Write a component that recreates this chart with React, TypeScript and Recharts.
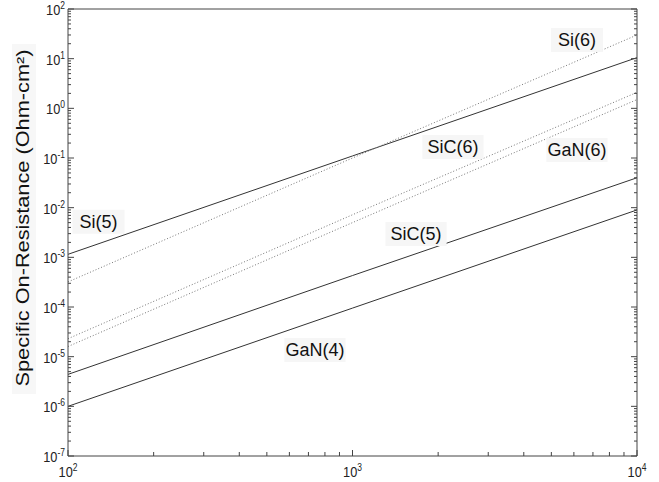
import { LineChart, Line, XAxis, YAxis, ReferenceDot } from "recharts";

// Breakdown voltage (V) at which each line was read
const voltages = [100, 1000, 10000];

// Specific on-resistance (Ohm-cm^2) read at each voltage
const si5 = [1.15e-3, 0.11, 10.5];
const si6 = [3.2e-4, 0.1, 30];
const sic6 = [2.3e-5, 7.2e-3, 2.1];
const gan6 = [1.6e-5, 5e-3, 1.5];
const sic5 = [4.4e-6, 4.3e-4, 0.04];
const gan4 = [1e-6, 9.5e-5, 9e-3];

const seriesNames = ["Si(5)", "Si(6)", "SiC(6)", "GaN(6)", "SiC(5)", "GaN(4)"];
const seriesValues = [si5, si6, sic6, gan6, sic5, gan4];
const seriesDotted = [false, true, true, true, false, false];

// Where the name of each line sits (data coords)
const labelX = [128, 6150, 2255, 6150, 1672, 738];
const labelY = [5.2e-3, 23.8, 0.167, 0.145, 2.95e-3, 1.36e-5];

const xExponents = [2, 3, 4];
const yExponents = [-7, -6, -5, -4, -3, -2, -1, 0, 1, 2];

const FONT = "'Liberation Sans', Arial, sans-serif";

function logTicks(exps: number[]) {
  const ticks: number[] = [];
  exps.forEach((e, i) => {
    ticks.push(Math.pow(10, e));
    if (i < exps.length - 1) {
      for (let k = 2; k <= 9; k++) ticks.push(k * Math.pow(10, e));
    }
  });
  return ticks;
}

const xTicks = logTicks(xExponents);
const yTicks = logTicks(yExponents);

function isMajor(v: number) {
  const e = Math.log10(v);
  return Math.abs(e - Math.round(e)) < 1e-6;
}

function Power({ v }: { v: number }) {
  return (
    <>
      <tspan>10</tspan>
      <tspan dy={-6} fontSize={10}>
        {Math.round(Math.log10(v))}
      </tspan>
    </>
  );
}

const BottomTick = (props: any) => {
  const { x, y, payload } = props;
  const major = isMajor(payload.value);
  return (
    <g>
      <line x1={x} x2={x} y1={y} y2={y - (major ? 6 : 4)} stroke="#444" />
      {major && (
        <text
          transform={`translate(${x},${y + 21}) scale(0.85,1)`}
          textAnchor="middle"
          fontSize={15}
          fill="#222"
          fontFamily={FONT}
        >
          <Power v={payload.value} />
        </text>
      )}
    </g>
  );
};

const TopTick = (props: any) => {
  const { x, y, payload } = props;
  const major = isMajor(payload.value);
  return <line x1={x} x2={x} y1={y} y2={y + (major ? 6 : 4)} stroke="#444" />;
};

const LeftTick = (props: any) => {
  const { x, y, payload } = props;
  const major = isMajor(payload.value);
  return (
    <g>
      <line x1={x} x2={x + (major ? 6 : 3)} y1={y} y2={y} stroke="#444" />
      {major && (
        <text
          transform={`translate(${x - 3},${y + 6}) scale(0.85,1)`}
          textAnchor="end"
          fontSize={15}
          fill="#222"
          fontFamily={FONT}
        >
          <Power v={payload.value} />
        </text>
      )}
    </g>
  );
};

const RightTick = (props: any) => {
  const { x, y, payload } = props;
  const major = isMajor(payload.value);
  return <line x1={x} x2={x - (major ? 6 : 3)} y1={y} y2={y} stroke="#444" />;
};

const NameTag = (name: string) => (props: any) => {
  const { cx, cy } = props;
  const w = name.length * 9.2 + 6;
  return (
    <g>
      <rect x={cx - w / 2} y={cy - 12} width={w} height={24} fill="#f6f6f6" />
      <text
        x={cx}
        y={cy}
        textAnchor="middle"
        dominantBaseline="central"
        fontSize={18}
        fill="#111"
        fontFamily={FONT}
      >
        {name}
      </text>
    </g>
  );
};

const YTitle = () => (
  <g>
    <rect x={12} y={44} width={24} height={350} fill="#f7f7f7" />
    <text
      transform="translate(29,218) rotate(-90)"
      textAnchor="middle"
      fontSize={18}
      fill="#111"
      fontFamily={FONT}
      textLength={337}
      lengthAdjust="spacingAndGlyphs"
    >
      Specific On-Resistance (Ohm-cm²)
    </text>
  </g>
);

export default function App() {
  return (
    <div>
      <style>{"body{margin:0;background:#fff}"}</style>
      <LineChart width={659} height={482} margin={{ top: 8, right: 12, bottom: 0, left: 8 }}>
        <XAxis
          xAxisId="bottom"
          dataKey="x"
          type="number"
          scale="log"
          domain={[100, 10000]}
          allowDataOverflow
          ticks={xTicks}
          interval={0}
          tick={<BottomTick />}
          tickLine={false}
          tickSize={0}
          tickMargin={0}
          height={26}
          axisLine={{ stroke: "#444" }}
        />
        <XAxis
          xAxisId="top"
          orientation="top"
          type="number"
          scale="log"
          domain={[100, 10000]}
          allowDataOverflow
          ticks={xTicks}
          interval={0}
          tick={<TopTick />}
          tickLine={false}
          tickSize={0}
          tickMargin={0}
          height={1}
          axisLine={{ stroke: "#444" }}
        />
        <YAxis
          yAxisId="left"
          type="number"
          scale="log"
          domain={[1e-7, 100]}
          allowDataOverflow
          ticks={yTicks}
          interval={0}
          tick={<LeftTick />}
          tickLine={false}
          tickSize={0}
          tickMargin={0}
          width={60}
          axisLine={{ stroke: "#444" }}
          label={<YTitle />}
        />
        <YAxis
          yAxisId="right"
          orientation="right"
          type="number"
          scale="log"
          domain={[1e-7, 100]}
          allowDataOverflow
          ticks={yTicks}
          interval={0}
          tick={<RightTick />}
          tickLine={false}
          tickSize={0}
          tickMargin={0}
          width={10}
          axisLine={{ stroke: "#444" }}
        />
        {seriesNames.map((name, i) => (
          <Line
            key={name}
            xAxisId="bottom"
            yAxisId="left"
            data={voltages.map((v, j) => ({ x: v, y: seriesValues[i][j] }))}
            dataKey="y"
            name={name}
            stroke={seriesDotted[i] ? "#777" : "#333"}
            strokeWidth={1}
            strokeDasharray={seriesDotted[i] ? "1 2" : undefined}
            dot={false}
            activeDot={false}
            isAnimationActive={false}
          />
        ))}
        {seriesNames.map((name, i) => (
          <ReferenceDot
            key={`tag-${name}`}
            xAxisId="bottom"
            yAxisId="left"
            x={labelX[i]}
            y={labelY[i]}
            r={0}
            shape={NameTag(name)}
          />
        ))}
      </LineChart>
    </div>
  );
}
